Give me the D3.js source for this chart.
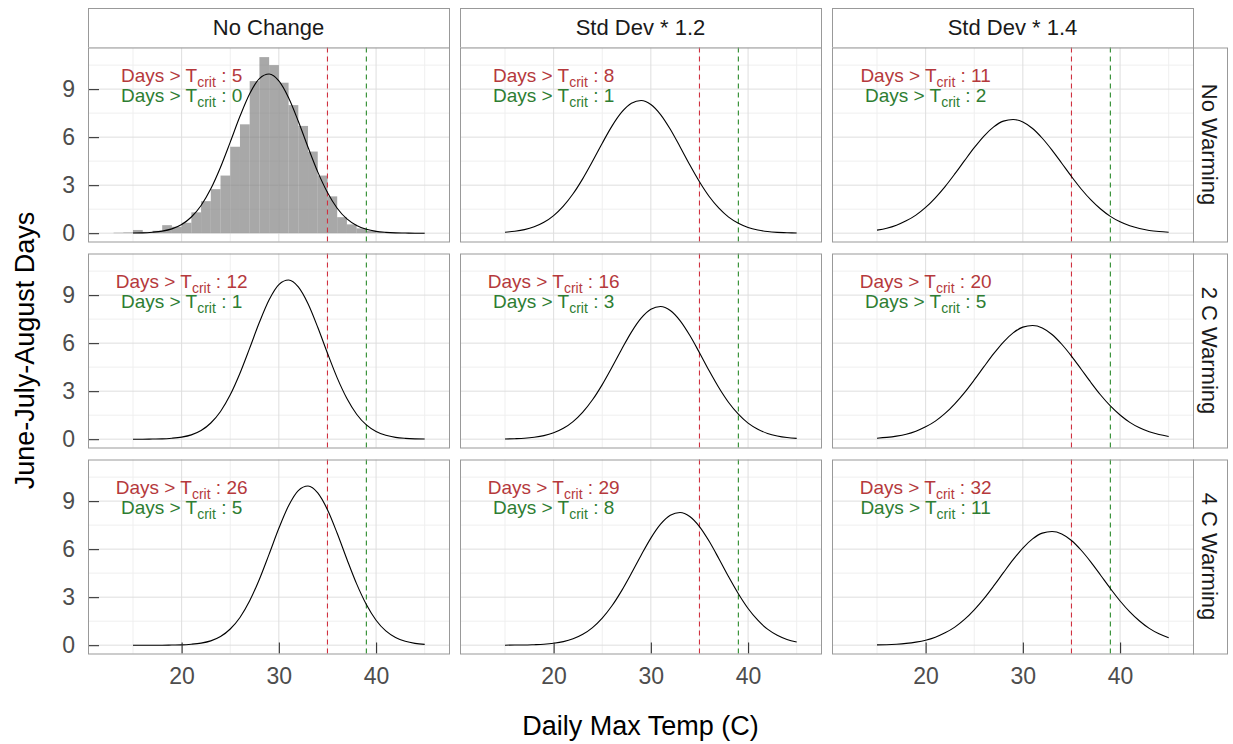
<!DOCTYPE html>
<html>
<head>
<meta charset="utf-8">
<script src="https://cdn.jsdelivr.net/npm/d3@7"></script>
<style>
  html, body { margin: 0; padding: 0; background: #fff; }
  svg { display: block; font-family: 'Liberation Sans', Arial, sans-serif; }
</style>
</head>
<body>
<div id="chart"></div>
<script>
// facet labels
const colLabels = ['No Change', 'Std Dev * 1.2', 'Std Dev * 1.4'];
const rowLabels = ['No Warming', '2 C Warming', '4 C Warming'];

const tempX = [15, 16, 17, 18, 19, 20, 21, 22, 23, 24, 25, 26, 27, 28, 29, 30,
  31, 32, 33, 34, 35, 36, 37, 38, 39, 40, 41, 42, 43, 44, 45];

// fitted curves, days per degree, one per panel
const noWarmSd10 = [0.01, 0.02, 0.06, 0.13, 0.27, 0.54, 1.01, 1.73, 2.77, 4.12, 5.69, 7.30, 8.71, 9.66, 9.94, 9.51,
  8.46, 6.99, 5.37, 3.83, 2.54, 1.56, 0.89, 0.48, 0.24, 0.11, 0.05, 0.02, 0.01, 0.00, 0.00];
const noWarmSd12 = [0.06, 0.12, 0.22, 0.40, 0.68, 1.10, 1.69, 2.46, 3.41, 4.49, 5.62, 6.69, 7.56, 8.12, 8.29, 8.04,
  7.41, 6.49, 5.40, 4.27, 3.21, 2.29, 1.56, 1.00, 0.62, 0.36, 0.20, 0.10, 0.05, 0.03, 0.01];
const noWarmSd14 = [0.19, 0.31, 0.50, 0.77, 1.13, 1.61, 2.21, 2.91, 3.70, 4.53, 5.34, 6.07, 6.64, 7.00, 7.10, 6.95,
  6.54, 5.93, 5.19, 4.37, 3.54, 2.76, 2.08, 1.51, 1.05, 0.71, 0.46, 0.29, 0.17, 0.10, 0.06];
const warm2Sd10 = [0.00, 0.00, 0.01, 0.02, 0.06, 0.13, 0.27, 0.54, 1.01, 1.73, 2.77, 4.12, 5.69, 7.30, 8.71, 9.66,
  9.94, 9.51, 8.46, 6.99, 5.37, 3.83, 2.54, 1.56, 0.89, 0.48, 0.24, 0.11, 0.05, 0.02, 0.01];
const warm2Sd12 = [0.01, 0.03, 0.06, 0.12, 0.22, 0.40, 0.68, 1.10, 1.69, 2.46, 3.41, 4.49, 5.62, 6.69, 7.56, 8.12,
  8.29, 8.04, 7.41, 6.49, 5.40, 4.27, 3.21, 2.29, 1.56, 1.00, 0.62, 0.36, 0.20, 0.10, 0.05];
const warm2Sd14 = [0.06, 0.11, 0.19, 0.31, 0.50, 0.77, 1.13, 1.61, 2.21, 2.91, 3.70, 4.53, 5.34, 6.07, 6.64, 7.00,
  7.10, 6.95, 6.54, 5.93, 5.19, 4.37, 3.54, 2.76, 2.08, 1.51, 1.05, 0.71, 0.46, 0.29, 0.17];
const warm4Sd10 = [0.00, 0.00, 0.00, 0.00, 0.01, 0.02, 0.06, 0.13, 0.27, 0.54, 1.01, 1.73, 2.77, 4.12, 5.69, 7.30,
  8.71, 9.66, 9.94, 9.51, 8.46, 6.99, 5.37, 3.83, 2.54, 1.56, 0.89, 0.48, 0.24, 0.11, 0.05];
const warm4Sd12 = [0.00, 0.01, 0.01, 0.03, 0.06, 0.12, 0.22, 0.40, 0.68, 1.10, 1.69, 2.46, 3.41, 4.49, 5.62, 6.69,
  7.56, 8.12, 8.29, 8.04, 7.41, 6.49, 5.40, 4.27, 3.21, 2.29, 1.56, 1.00, 0.62, 0.36, 0.20];
const warm4Sd14 = [0.02, 0.03, 0.06, 0.11, 0.19, 0.31, 0.50, 0.77, 1.13, 1.61, 2.21, 2.91, 3.70, 4.53, 5.34, 6.07,
  6.64, 7.00, 7.10, 6.95, 6.54, 5.93, 5.19, 4.37, 3.54, 2.76, 2.08, 1.51, 1.05, 0.71, 0.46];

// observed histogram (No Warming / No Change), 1 degree bins
const histBinStart = [13, 14, 15, 16, 17, 18, 19, 20, 21, 22, 23, 24, 25, 26, 27, 28,
  29, 30, 31, 32, 33, 34, 35, 36, 37, 38, 39, 40, 41, 42, 43, 44];
const histDays = [0.03, 0.05, 0.2, 0.08, 0.15, 0.5, 0.4, 0.65, 1.3, 2.0, 2.75, 3.6, 5.4, 6.8, 9.5, 11.0,
  10.5, 9.4, 8.0, 6.7, 5.1, 3.6, 2.3, 1.0, 0.55, 0.3, 0.15, 0.05, 0.03, 0.02, 0.02, 0.02];

// thresholds and counts of days above them
const tCritLow = 35;
const tCritHigh = 39;
const daysAboveLow = [[5, 8, 11], [12, 16, 20], [26, 29, 32]];
const daysAboveHigh = [[0, 1, 2], [1, 3, 5], [5, 8, 11]];

// axis ticks
const xTicks = [20, 30, 40];
const xMinor = [15, 25, 35, 45];
const yTicks = [0, 3, 6, 9];
const yMinor = [1.5, 4.5, 7.5, 10.5];

const curves = [
  [noWarmSd10, noWarmSd12, noWarmSd14],
  [warm2Sd10, warm2Sd12, warm2Sd14],
  [warm4Sd10, warm4Sd12, warm4Sd14]
];

const totalW = 1233, totalH = 744;
const colX0 = [88, 460, 832];
const rowY0 = [47.5, 253.5, 459.5];
const panelW = 361, panelH = 194;
const stripTop = 8;
const rightStripW = 34;
const border = '#999999';
const redText = '#b5393c', greenText = '#2e7d32';
const redLine = '#d0303f', greenLine = '#2a8a2a';
const font = "'Liberation Sans', Arial, sans-serif";

const svg = d3.select('#chart').append('svg')
  .attr('width', totalW).attr('height', totalH);

const x = d3.scaleLinear().domain([10.37, 47.5]).range([0, panelW]);
const y = d3.scaleLinear().domain([-0.52, 11.6]).range([panelH, 0]);

const line = d3.line()
  .x(d => x(d[0]))
  .y(d => y(d[1]))
  .curve(d3.curveMonotoneX);

// Top strips
colLabels.forEach((lab, c) => {
  svg.append('rect')
    .attr('x', colX0[c] + 0.5).attr('y', stripTop + 0.5)
    .attr('width', panelW).attr('height', rowY0[0] - stripTop)
    .attr('fill', '#fff').attr('stroke', border);
  svg.append('text')
    .attr('x', colX0[c] + panelW / 2).attr('y', (stripTop + rowY0[0]) / 2)
    .attr('dy', '0.35em').attr('text-anchor', 'middle')
    .attr('font-size', '22px').attr('fill', '#1a1a1a')
    .text(lab);
});

// Right strips
rowLabels.forEach((lab, r) => {
  const sx = colX0[2] + panelW;
  svg.append('rect')
    .attr('x', sx + 0.5).attr('y', rowY0[r] + 0.5)
    .attr('width', rightStripW).attr('height', panelH)
    .attr('fill', '#fff').attr('stroke', border);
  svg.append('text')
    .attr('transform', `translate(${sx + rightStripW / 2},${rowY0[r] + panelH / 2}) rotate(90)`)
    .attr('dy', '0.35em').attr('text-anchor', 'middle')
    .attr('font-size', '22px').attr('fill', '#1a1a1a')
    .text(lab);
});

// Panels
rowLabels.forEach((rl, r) => {
  colLabels.forEach((cl, c) => {
    const g = svg.append('g').attr('transform', `translate(${colX0[c]},${rowY0[r]})`);

    g.append('rect').attr('width', panelW).attr('height', panelH).attr('fill', '#fff');

    // Grid
    g.append('g').selectAll('line').data(xMinor).enter().append('line')
      .attr('x1', d => x(d)).attr('x2', d => x(d)).attr('y1', 0).attr('y2', panelH)
      .attr('stroke', '#efefef').attr('stroke-width', 1);
    g.append('g').selectAll('line').data(yMinor).enter().append('line')
      .attr('x1', 0).attr('x2', panelW).attr('y1', d => y(d)).attr('y2', d => y(d))
      .attr('stroke', '#efefef').attr('stroke-width', 1);
    g.append('g').selectAll('line').data(xTicks).enter().append('line')
      .attr('x1', d => x(d)).attr('x2', d => x(d)).attr('y1', 0).attr('y2', panelH)
      .attr('stroke', '#dedede').attr('stroke-width', 1);
    g.append('g').selectAll('line').data(yTicks).enter().append('line')
      .attr('x1', 0).attr('x2', panelW).attr('y1', d => y(d)).attr('y2', d => y(d))
      .attr('stroke', '#dedede').attr('stroke-width', 1);

    // Histogram only in the baseline panel
    if (r === 0 && c === 0) {
      g.append('g').selectAll('rect').data(histBinStart).enter().append('rect')
        .attr('x', d => x(d))
        .attr('width', d => x(d + 1) - x(d))
        .attr('y', (d, i) => y(histDays[i]))
        .attr('height', (d, i) => y(0) - y(histDays[i]))
        .attr('fill', '#7f7f7f').attr('fill-opacity', 0.68);
    }

    // Threshold lines
    g.append('line')
      .attr('x1', x(tCritLow)).attr('x2', x(tCritLow)).attr('y1', 0).attr('y2', panelH)
      .attr('stroke', redLine).attr('stroke-width', 1.1).attr('stroke-dasharray', '5,4');
    g.append('line')
      .attr('x1', x(tCritHigh)).attr('x2', x(tCritHigh)).attr('y1', 0).attr('y2', panelH)
      .attr('stroke', greenLine).attr('stroke-width', 1.1).attr('stroke-dasharray', '5,4');

    // Fitted curve
    g.append('path')
      .datum(tempX.map((t, i) => [t, curves[r][c][i]]))
      .attr('fill', 'none').attr('stroke', '#000').attr('stroke-width', 1.1)
      .attr('d', line);

    // Annotations
    const labels = [
      { n: daysAboveLow[r][c], v: 9.9, col: redText },
      { n: daysAboveHigh[r][c], v: 8.65, col: greenText }
    ];
    labels.forEach(l => {
      const t = g.append('text')
        .attr('x', x(20)).attr('y', y(l.v) + 6.8)
        .attr('text-anchor', 'middle')
        .attr('font-size', '19px').attr('fill', l.col);
      t.append('tspan').text('Days > T');
      t.append('tspan').attr('font-size', '14px').attr('dy', 5).text('crit');
      t.append('tspan').attr('dy', -5).text(` : ${l.n}`);
    });

    // Axes with inward ticks
    if (c === 0) {
      const ya = g.append('g').call(d3.axisLeft(y).tickValues(yTicks).tickSize(-11).tickPadding(13));
      ya.select('.domain').remove();
      ya.selectAll('line').attr('stroke', '#333').attr('stroke-width', 1.1);
      ya.selectAll('text').attr('fill', '#4d4d4d').attr('font-size', '23px').attr('font-family', font);
    }
    if (r === 2) {
      const xa = g.append('g').attr('transform', `translate(0,${panelH})`)
        .call(d3.axisBottom(x).tickValues(xTicks).tickSize(-11).tickPadding(14));
      xa.select('.domain').remove();
      xa.selectAll('line').attr('stroke', '#333').attr('stroke-width', 1.1);
      xa.selectAll('text').attr('fill', '#4d4d4d').attr('font-size', '23px').attr('font-family', font);
    }

    // Panel border
    g.append('rect')
      .attr('x', 0.5).attr('y', 0.5).attr('width', panelW).attr('height', panelH)
      .attr('fill', 'none').attr('stroke', border);
  });
});

// Axis titles
svg.append('text')
  .attr('x', colX0[0] + (colX0[2] + panelW - colX0[0]) / 2).attr('y', 735)
  .attr('text-anchor', 'middle').attr('font-size', '27px').attr('fill', '#000')
  .text('Daily Max Temp (C)');

svg.append('text')
  .attr('transform', `translate(34,${(rowY0[0] + rowY0[2] + panelH) / 2}) rotate(-90)`)
  .attr('text-anchor', 'middle').attr('font-size', '27px').attr('fill', '#000')
  .text('June-July-August Days');
</script>
</body>
</html>
